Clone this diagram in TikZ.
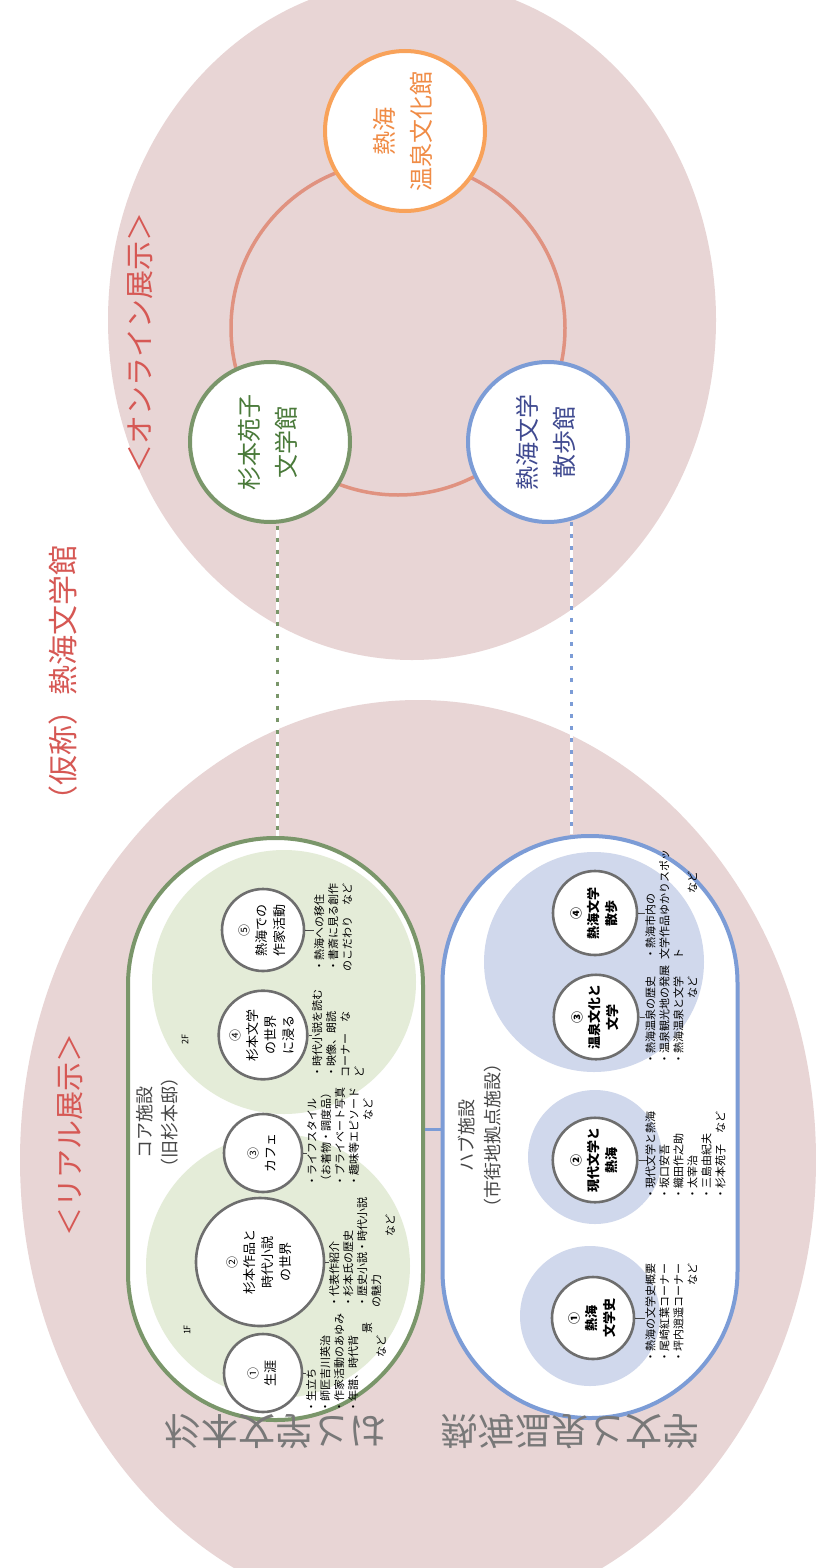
\documentclass[tikz,border=0pt]{standalone}
\usepackage{fontspec}
\setmainfont{Noto Sans CJK JP}
\usepackage{graphicx}
\definecolor{bgpink}{RGB}{232,213,213}
\definecolor{greenfill}{RGB}{228,236,216}
\definecolor{bluefill}{RGB}{208,216,236}
\definecolor{greenline}{RGB}{122,150,106}
\definecolor{blueline}{RGB}{124,156,214}
\definecolor{orangeline}{RGB}{248,162,90}
\definecolor{ringred}{RGB}{224,146,128}
\definecolor{spotgray}{RGB}{110,110,110}
\definecolor{titlered}{RGB}{214,88,84}
\definecolor{greentext}{RGB}{74,122,58}
\definecolor{bluetext}{RGB}{64,74,144}
\definecolor{orangetext}{RGB}{240,140,70}
\definecolor{hallgray}{RGB}{70,70,70}
\definecolor{biggray}{RGB}{120,120,120}
\newcommand{\vlab}[1]{\rotatebox{90}{\begin{tabular}{@{}c@{}}#1\end{tabular}}}
\newcommand{\num}[1]{{\fontsize{12}{14}\selectfont #1}}
\tikzset{
  every node/.style={inner sep=0pt},
  hall/.style={draw, line width=4pt, fill=white, rounded corners=147pt, minimum width=295pt, minimum height=582pt},
  floorarea/.style 2 args={circle, fill=#1, minimum size=#2},
  online/.style={circle, draw=#1, line width=4pt, fill=white, minimum size=160pt, font=\fontsize{24}{37}\selectfont},
  spot/.style={circle, draw=spotgray, line width=2.6pt, fill=white, minimum size=#1, font=\fontsize{13}{18}\selectfont},
  desc/.style={rotate=90, anchor=north west, align=left, font=\fontsize{11}{14}\selectfont},
  vtext/.style={rotate=90, align=center},
  tick/.style={draw=hallgray, line width=0.8pt},
}
\begin{document}
\begin{tikzpicture}[x=1pt, y=-1pt]
\useasboundingbox (0,0) rectangle (816,1568);
\fill[white] (0,0) rectangle (816,1568);
% background areas
\fill[bgpink] (412,320) ellipse [x radius=304, y radius=340];
\fill[bgpink] (418,1160) ellipse [x radius=398, y radius=460];
\draw[ringred, line width=3.5pt] (398,328) circle [radius=167];

% titles
\node[vtext, text=titlered, font=\fontsize{30}{36}\selectfont] (title) at (63,680) {（仮称）熱海文学館};
\node[vtext, text=titlered, font=\fontsize{29}{36}\selectfont] (onlineTitle) at (140,343) {＜オンライン展示＞};
\node[vtext, text=titlered, font=\fontsize{29}{36}\selectfont] (realTitle) at (70,1135) {＜リアル展示＞};

% online exhibition
\node[online=orangeline, text=orangetext] (bunka) at (405,131) {\vlab{熱海\\温泉文化館}};
\node[online=greenline, text=greentext] (sugiOnline) at (270,442) {\vlab{杉本苑子\\文学館}};
\node[online=blueline, text=bluetext] (sanpo) at (548,442) {\vlab{熱海文学\\散歩館}};

% real exhibition halls
\node[hall, draw=greenline] (core) at (275.5,1129) {};
\node[hall, draw=blueline] (hub) at (590,1127) {};

% dotted links
\draw[white, line width=3pt, shorten <=2pt] (sugiOnline.-85) -- (sugiOnline.-85 |- core.north);
\draw[greenline, line width=3pt, dash pattern=on 4pt off 8pt, shorten <=2pt] (sugiOnline.-85) -- (sugiOnline.-85 |- core.north);
\draw[white, line width=3pt, shorten <=2pt] (sanpo.-73) -- (sanpo.-73 |- hub.north);
\draw[blueline, line width=3pt, dash pattern=on 4pt off 8pt, shorten <=2pt] (sanpo.-73) -- (sanpo.-73 |- hub.north);
\draw[blueline, line width=3pt] (core.east) -- (core.east -| hub.west);

% core facility
\node[floorarea={greenfill}{264pt}] (floor2) at (284,982) {};
\node[floorarea={greenfill}{264pt}] (floor1) at (278,1266) {};
\node[vtext, text=hallgray, font=\fontsize{18}{25}\selectfont] (coreTitle) at (157,1122) {コア施設\\（旧杉本邸）};
\node[vtext, font=\fontsize{9}{10}\selectfont] (f1label) at (187,1330) {1F};
\node[vtext, font=\fontsize{9}{10}\selectfont] (f2label) at (185,1040) {2F};

\node[spot=78pt] (s1) at (263,1373) {\vlab{\num{①}\\生涯}};
\node[spot=128pt] (s2) at (260,1262) {\vlab{\num{②}\\杉本作品と\\時代小説\\の世界}};
\node[spot=78pt] (s3) at (263,1153) {\vlab{\num{③}\\カフェ}};
\node[spot=82pt] (s4) at (263,1035) {\vlab{\num{④}\\杉本文学\\の世界\\に浸る}};
\node[spot=82pt] (s5) at (263,930) {\vlab{\num{⑤}\\熱海での\\作家活動}};

\node[desc] (d1) at (306,1413) {・生立ち\\・師匠吉川英治\\・作家活動のあゆみ\\・年譜、時代背\\\hspace*{7.2em}景\\\hspace*{5em}など};
\node[desc] (d2) at (329,1308) {・代表作紹介\\・杉本氏の歴史\\・歴史小説・時代小説\\の魅力\\\hspace*{6.5em}など};
\node[desc] (d3) at (307,1187) {・ライフスタイル\\（お着物・調度品）\\・プライベート写真\\・趣味等エピソード\\\hspace*{6em}など};
\node[desc] (d4) at (312,1078) {・時代小説を読む\\・映像、朗読\\コーナー　な\\ど};
\node[desc] (d5) at (314,972) {・熱海への移住\\・書斎に見る創作\\のこだわり　など};
\foreach \s/\d in {s1/d1, s2/d2, s3/d3, s4/d4, s5/d5}
  \draw[tick] (\s.east) -- (\s.east -| \d.north);

% hub facility
\node[floorarea={bluefill}{220pt}] (area34) at (594,962) {};
\node[floorarea={bluefill}{134pt}] (area2) at (595,1157) {};
\node[floorarea={bluefill}{140pt}] (area1) at (590,1316) {};
\node[vtext, text=hallgray, font=\fontsize{18}{26}\selectfont] (hubTitle) at (480,1135) {ハブ施設\\（市街地拠点施設）};

\node[spot=82pt, font=\fontsize{13}{18}\selectfont\bfseries] (h1) at (593,1318) {\vlab{\num{①}\\熱海\\文学史}};
\node[spot=84pt, font=\fontsize{13}{18}\selectfont\bfseries] (h2) at (595,1160) {\vlab{\num{②}\\現代文学と\\熱海}};
\node[spot=84pt, font=\fontsize{13}{18}\selectfont\bfseries] (h3) at (596,1017) {\vlab{\num{③}\\温泉文化と\\文学}};
\node[spot=84pt, font=\fontsize{13}{18}\selectfont\bfseries] (h4) at (595,913) {\vlab{\num{④}\\熱海文学\\散歩}};

\node[desc] (e1) at (645,1363) {・熱海の文学史概要\\・尾崎紅葉コーナー\\・坪内逍遥コーナー\\\hspace*{7em}など};
\node[desc] (e2) at (645,1200) {・現代文学と熱海\\・坂口安吾\\・織田作之助\\・太宰治\\・三島由紀夫\\・杉本苑子\hspace*{1em}など};
\node[desc] (e3) at (645,1065) {・熱海温泉の歴史\\・温泉観光地の発展\\・熱海温泉と文学\\\hspace*{6em}など};
\node[desc] (e4) at (645,960) {・熱海市内の\\文学作品ゆかりスポッ\\ト\\\hspace*{6em}など};
\foreach \s/\d in {h1/e1, h2/e2, h3/e3, h4/e4}
  \draw[tick] (\s.east) -- (\s.east -| \d.north);

% headings below
\node[text=biggray, font=\fontsize{37}{40}\selectfont] (sugiHead) at (275,1432) {\scalebox{1}[-1]{杉本文学とは}};
\node[text=biggray, font=\fontsize{37}{40}\selectfont] (atamiHead) at (570,1432) {\scalebox{1}[-1]{熱海温泉と文学}};
\end{tikzpicture}
\end{document}
